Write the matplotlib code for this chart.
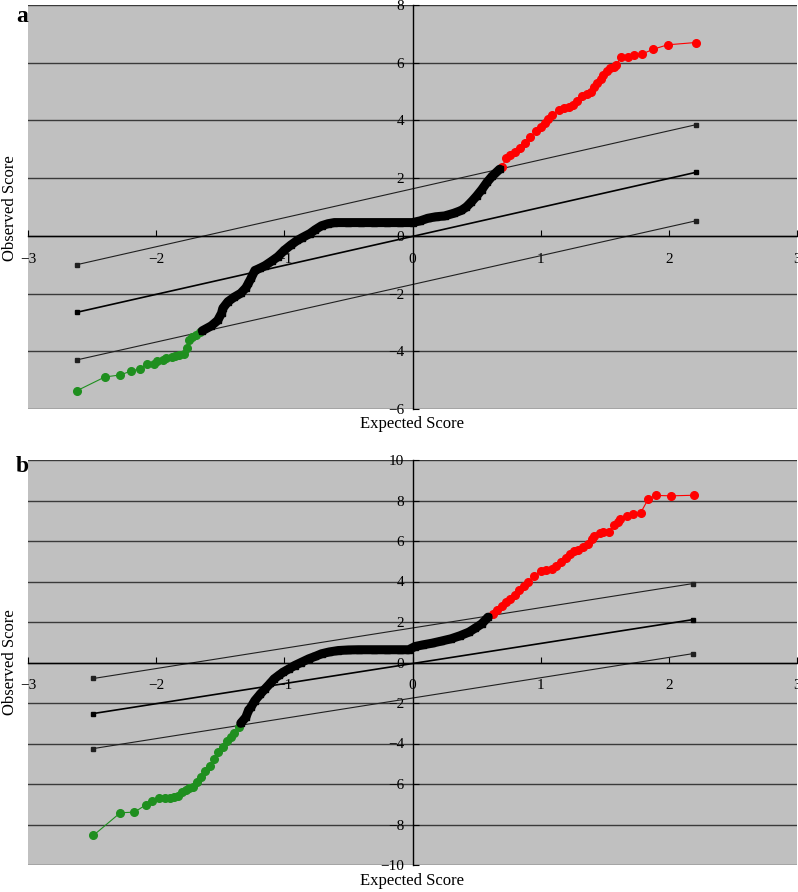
"""Normal Q-Q style plots of observed vs expected score, panels a and b."""

import matplotlib

matplotlib.use("Agg")
import matplotlib.pyplot as plt
from matplotlib.ticker import MultipleLocator

# ---- panel a data (expected, observed) ----
a_green_x = [-2.62, -2.40, -2.28, -2.20, -2.13, -2.07, -2.02, -1.99, -1.95, -1.92,
             -1.88, -1.85, -1.82, -1.78, -1.76, -1.74, -1.72, -1.69, -1.66]
a_green_y = [-5.37, -4.89, -4.82, -4.69, -4.61, -4.43, -4.43, -4.34, -4.30, -4.24,
             -4.19, -4.16, -4.12, -4.08, -3.88, -3.60, -3.51, -3.43, -3.34]
a_black_x = [-1.64, -1.57, -1.52, -1.49, -1.48, -1.44, -1.39, -1.34, -1.30, -1.28,
             -1.26, -1.23, -1.19, -1.15, -1.10, -1.05, -1.00, -0.95, -0.90, -0.86,
             -0.80, -0.76, -0.71, -0.66, -0.61, -0.50, -0.40, -0.30, -0.20, -0.10,
             0.00, 0.06, 0.12, 0.18, 0.25, 0.32, 0.38, 0.42, 0.46, 0.50, 0.54, 0.58,
             0.62, 0.68]
a_black_y = [-3.29, -3.12, -2.93, -2.68, -2.51, -2.28, -2.12, -1.99, -1.80, -1.64,
             -1.47, -1.20, -1.12, -1.03, -0.88, -0.72, -0.50, -0.32, -0.16, -0.06,
             0.08, 0.21, 0.35, 0.42, 0.46, 0.46, 0.46, 0.46, 0.46, 0.46,
             0.46, 0.52, 0.61, 0.66, 0.69, 0.78, 0.88, 1.00, 1.18, 1.38, 1.60, 1.85,
             2.06, 2.31]
a_red_x = [0.70, 0.73, 0.76, 0.80, 0.84, 0.88, 0.92, 0.96, 1.00, 1.03, 1.06, 1.09,
           1.14, 1.18, 1.22, 1.25, 1.28, 1.32, 1.36, 1.39, 1.42, 1.44, 1.47, 1.49,
           1.52, 1.54, 1.57, 1.59, 1.63, 1.68, 1.73, 1.79, 1.88, 1.99, 2.21]
a_red_y = [2.40, 2.69, 2.80, 2.92, 3.06, 3.21, 3.42, 3.62, 3.78, 3.91, 4.05, 4.19,
           4.37, 4.42, 4.46, 4.55, 4.66, 4.83, 4.92, 5.00, 5.15, 5.29, 5.45, 5.58,
           5.72, 5.81, 5.85, 5.93, 6.21, 6.21, 6.27, 6.30, 6.47, 6.62, 6.70]
a_ref_x = [-2.62, 2.21]
a_ref_mid = [-2.65, 2.20]
a_ref_up = [-1.00, 3.85]
a_ref_lo = [-4.30, 0.52]

# ---- panel b data ----
b_green_x = [-2.49, -2.28, -2.17, -2.08, -2.03, -1.98, -1.93, -1.89, -1.86, -1.83,
             -1.80, -1.77, -1.74, -1.71, -1.68, -1.65, -1.62, -1.58, -1.55, -1.52,
             -1.48, -1.45, -1.42, -1.39, -1.35]
b_green_y = [-8.54, -7.42, -7.39, -7.03, -6.83, -6.70, -6.67, -6.67, -6.62, -6.58,
             -6.40, -6.32, -6.22, -6.16, -5.91, -5.66, -5.38, -5.09, -4.76, -4.43,
             -4.15, -3.89, -3.69, -3.49, -3.20]
b_black_x = [-1.34, -1.30, -1.28, -1.26, -1.23, -1.19, -1.15, -1.11, -1.08, -1.04,
             -1.01, -0.96, -0.92, -0.87, -0.81, -0.76, -0.71, -0.65, -0.58, -0.50,
             -0.42, -0.30, -0.20, -0.10, -0.03, 0.02, 0.08, 0.15, 0.22, 0.30, 0.37,
             0.44, 0.49, 0.54, 0.59]
b_black_y = [-3.00, -2.70, -2.37, -2.20, -1.88, -1.58, -1.30, -1.03, -0.81, -0.62,
             -0.48, -0.30, -0.15, 0.00, 0.18, 0.30, 0.43, 0.52, 0.59, 0.62,
             0.63, 0.63, 0.63, 0.63, 0.63, 0.79, 0.87, 0.95, 1.05, 1.17, 1.32,
             1.50, 1.70, 1.91, 2.24]
b_red_x = [0.63, 0.66, 0.70, 0.73, 0.76, 0.80, 0.83, 0.87, 0.90, 0.95, 1.00, 1.04,
           1.09, 1.12, 1.16, 1.20, 1.23, 1.26, 1.29, 1.33, 1.37, 1.40, 1.42, 1.46,
           1.49, 1.53, 1.57, 1.60, 1.62, 1.67, 1.72, 1.78, 1.84, 1.90, 2.02, 2.20]
b_red_y = [2.40, 2.60, 2.81, 2.98, 3.14, 3.35, 3.56, 3.78, 3.97, 4.28, 4.54, 4.58,
           4.63, 4.78, 4.95, 5.18, 5.37, 5.50, 5.56, 5.70, 5.86, 6.10, 6.27, 6.40,
           6.43, 6.43, 6.77, 6.95, 7.10, 7.21, 7.34, 7.39, 8.08, 8.25, 8.23, 8.26]
b_ref_x = [-2.49, 2.19]
b_ref_mid = [-2.52, 2.12]
b_ref_up = [-0.79, 3.90]
b_ref_lo = [-4.25, 0.44]

PANEL = "#c0c0c0"
GRID = "#3a3a3a"
GREEN = "#1f8f1f"
RED = "#ff0000"

plt.rcParams["font.family"] = ["Liberation Serif", "DejaVu Serif"]
W, H = 798, 892


def draw_panel(ax, green, black, red, ref_x, refs, ylim):
    ax.set_facecolor(PANEL)
    ax.set_xlim(-3, 3)
    ax.set_ylim(*ylim)
    for s in ("top", "right"):
        ax.spines[s].set_visible(False)
    ax.spines["left"].set_position(("data", 0))
    ax.spines["bottom"].set_position(("data", 0))
    for s in ("left", "bottom"):
        ax.spines[s].set_linewidth(1.0)
        ax.spines[s].set_color("black")
    ax.xaxis.set_major_locator(MultipleLocator(1))
    ax.yaxis.set_major_locator(MultipleLocator(2))
    ax.tick_params(axis="x", direction="in", length=4, pad=12, labelsize=11, color="black")
    ax.tick_params(axis="y", direction="in", length=4, pad=6, labelsize=11, color="black")
    ax.yaxis.grid(True, color=GRID, lw=1.0)
    ax.set_axisbelow(True)

    mid, up, lo = refs
    ax.plot(ref_x, up, color="#202020", lw=0.8, marker="s", ms=2.5)
    ax.plot(ref_x, mid, color="black", lw=1.2, marker="s", ms=2.5)
    ax.plot(ref_x, lo, color="#202020", lw=0.8, marker="s", ms=2.5)

    ax.plot(*green, color=GREEN, lw=0.8, marker="o", ms=5.5, mec=GREEN, zorder=4)
    ax.plot(*black, color="black", lw=6.5, marker="s", ms=4.5, zorder=5,
            solid_capstyle="round", solid_joinstyle="round")
    ax.plot(*red, color=RED, lw=0.8, marker="o", ms=5.5, mec=RED, zorder=4)


fig = plt.figure(figsize=(W / 100, H / 100), dpi=100)
ax_a = fig.add_axes([28 / W, 1 - 409 / H, 769 / W, 404 / H])
ax_b = fig.add_axes([28 / W, 1 - 865 / H, 769 / W, 405 / H])

draw_panel(ax_a, (a_green_x, a_green_y), (a_black_x, a_black_y), (a_red_x, a_red_y),
           a_ref_x, (a_ref_mid, a_ref_up, a_ref_lo), (-6, 8))
draw_panel(ax_b, (b_green_x, b_green_y), (b_black_x, b_black_y), (b_red_x, b_red_y),
           b_ref_x, (b_ref_mid, b_ref_up, b_ref_lo), (-10, 10))

fig.text(16 / W, 1 - 16 / H, "a", fontsize=17, fontweight="bold", ha="left", va="center")
fig.text(16 / W, 1 - 467 / H, "b", fontsize=17, fontweight="bold", ha="left", va="center")
for yc in (208, 662):
    fig.text(10 / W, 1 - yc / H, "Observed Score", rotation=90, fontsize=12,
             ha="center", va="center")
fig.text(412 / W, 1 - 424 / H, "Expected Score", fontsize=12, ha="center", va="center")
fig.text(412 / W, 1 - 881 / H, "Expected Score", fontsize=12, ha="center", va="center")

fig.savefig("out.png", dpi=100, facecolor="white")
